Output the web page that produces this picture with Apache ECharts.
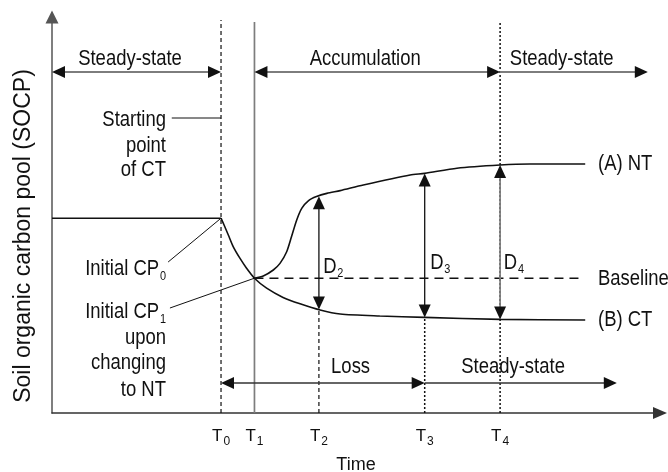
<!DOCTYPE html>
<html><head><meta charset="utf-8">
<script src="https://cdn.jsdelivr.net/npm/echarts@6/dist/echarts.min.js"></script>
<style>html,body{margin:0;padding:0;background:#fff}#c{width:668px;height:472px}</style>
</head><body><div id="c"></div>
<script>
// ---- data (time units 0..100, SOCP units 0..100) ----
const ntCurve = [[33.3,33.7],[34.75,34.25],[36.4,35.75],[37.5,37.4],[38.6,40.3],[39.4,44.1],[40.25,48.25],[41.1,51.2],[42.2,53.1],[43.5,54.1],[45.2,54.9],[47.4,55.6],[51.2,57.0],[58.9,59.5],[61.3,59.9],[66.6,61.2],[73.7,62.0],[78.6,62.25],[87.7,62.25]];
const ctCurve = [[27.8,48.7],[28.3,47.0],[29.0,44.5],[29.8,41.6],[30.9,38.7],[32.0,36.2],[33.3,33.7],[35.3,31.2],[38.0,28.9],[40.8,27.3],[44.1,25.75],[47.4,24.75],[53.9,24.25],[61.3,23.9],[73.7,23.4],[87.7,23.25]];
const initialLevel = [[0,48.7],[27.8,48.7]];
const baselineLevel = [[33.3,33.7],[86.8,33.7]];

const timeMarks = [27.8, 33.3, 43.9, 61.3, 73.7];
const timeSubs = ['0','1','2','3','4'];

const topPhaseNames = ['Steady-state','Accumulation','Steady-state'];
const topPhaseFrom = [0, 33.3, 73.7];
const topPhaseTo = [27.8, 73.7, 98.0];
const topPhaseTwoWay = [1, 1, 0];
const topPhaseLabelX = [4.3, 42.4, 75.3];
const topPhaseLevel = 85.25;
const topPhaseLabelLevel = 88.5;

const lowPhaseNames = ['Loss','Steady-state'];
const lowPhaseFrom = [27.8, 61.3];
const lowPhaseTo = [61.3, 92.9];
const lowPhaseTwoWay = [1, 0];
const lowPhaseLabelX = [45.9, 67.3];
const lowPhaseLevel = 7.5;
const lowPhaseLabelLevel = 11.5;

const dX = [43.9, 61.3, 73.7];
const dTop = [54.2, 59.9, 62.0];
const dBottom = [25.9, 23.9, 23.4];
const dNames = ['D{s|2}','D{s|3}','D{s|4}'];
const dLabelX = [44.6, 62.2, 74.3];
const dLabelY = [36.6, 37.6, 37.6];

const solidGuides = [[33.3,0,33.3,97.75]];
const dashedGuides = [[27.8,0,27.8,98.25],[43.9,0,43.9,25.9]];
const dottedGuides = [[61.3,0,61.3,23.9],[73.7,0,73.7,97.5]];
const leaderLines = [[19.7,73.75,27.8,73.75],[19.1,37.75,27.8,48.7],[19.4,26.25,33.3,33.7]];

const leftNotes = ['Starting','point','of CT','Initial CP{s|0}','Initial CP{s|1}','upon','changing','to NT'];
const leftNotesY = [73.25, 66.75, 60.75, 36.0, 25.25, 18.75, 12.5, 5.75];
const leftNotesX = 18.75;

const rightNotes = ['(A) NT','Baseline','(B) CT'];
const rightNotesY = [62.25, 33.5, 23.25];
const rightNotesX = 89.8;

// ---- styles ----
const FN = "'Liberation Sans',Arimo,Arial,sans-serif";
const INK = '#111111';
const GREY = '#7d7d7d';
const FS = 22;
const NARROW = 0.84;
const subRich = { s: { fontFamily: FN, fontSize: 13, fill: INK, color: INK, padding: [14, 0, 0, 1] } };

function segSeries(data, color, width, dash) {
  return {
    type: 'custom', data: data, silent: true, z: 3,
    renderItem: function (params, api) {
      const a = api.coord([api.value(0), api.value(1)]);
      const b = api.coord([api.value(2), api.value(3)]);
      return { type: 'line', shape: { x1: a[0], y1: a[1], x2: b[0], y2: b[1] },
        style: { stroke: color, lineWidth: width, lineDash: dash || null } };
    }
  };
}
function head(tip, ux, uy) {
  const L = 13, W = 6;
  const bx = tip[0] - ux * L, by = tip[1] - uy * L;
  return { type: 'polygon', shape: { points: [[tip[0], tip[1]], [bx - uy * W, by + ux * W], [bx + uy * W, by - ux * W]] },
    style: { fill: INK } };
}
function arrowSeries(data, color, width) {
  return {
    type: 'custom', data: data, silent: true, z: 5,
    renderItem: function (params, api) {
      const a = api.coord([api.value(0), api.value(1)]);
      const b = api.coord([api.value(2), api.value(3)]);
      const both = api.value(4);
      const dx = b[0] - a[0], dy = b[1] - a[1], len = Math.hypot(dx, dy);
      const ux = dx / len, uy = dy / len;
      const s = both ? [a[0] + ux * 10, a[1] + uy * 10] : a;
      const e = [b[0] - ux * 10, b[1] - uy * 10];
      const ch = [{ type: 'line', shape: { x1: s[0], y1: s[1], x2: e[0], y2: e[1] }, style: { stroke: color, lineWidth: width } }];
      ch.push(head(b, ux, uy));
      if (both) ch.push(head(a, -ux, -uy));
      return { type: 'group', children: ch };
    }
  };
}
function textSeries(xs, ys, texts, align, size) {
  return {
    type: 'custom', silent: true, z: 6,
    data: texts.map(function (t, i) { return [xs[i], ys[i]]; }),
    renderItem: function (params, api) {
      const p = api.coord([api.value(0), api.value(1)]);
      return { type: 'text', x: p[0], y: p[1], scaleX: NARROW,
        style: { text: texts[params.dataIndex], align: align, verticalAlign: 'middle',
          fontFamily: FN, fontSize: size || FS, fill: INK, rich: subRich } };
    }
  };
}

const chart = echarts.init(document.getElementById('c'), null, { renderer: 'canvas' });
chart.setOption({
  animation: false,
  backgroundColor: '#ffffff',
  grid: { left: 52, right: 8, top: 13, bottom: 59, containLabel: false, outerBoundsMode: 'none' },
  xAxis: {
    type: 'value', min: 0, max: 100,
    name: 'Time', nameLocation: 'middle', nameGap: 43,
    nameTextStyle: { fontFamily: FN, fontSize: 18, color: INK },
    axisLine: { show: true, symbol: ['none', 'triangle'], symbolSize: [12, 14], lineStyle: { color: '#333', width: 1.5 } },
    axisTick: { show: false }, splitLine: { show: false },
    axisLabel: {
      customValues: timeMarks, margin: 11,
      formatter: function (v) {
        const i = timeMarks.indexOf(v);
        return '{t|T}{s|' + timeSubs[i] + '}';
      },
      rich: {
        t: { fontFamily: FN, fontSize: 17, color: INK },
        s: { fontFamily: FN, fontSize: 12, color: INK, padding: [12, 0, 0, 1] }
      }
    }
  },
  yAxis: {
    type: 'value', min: 0, max: 100,
    name: 'Soil organic carbon pool (SOCP)', nameLocation: 'middle', nameGap: 17, nameRotate: 90,
    nameTextStyle: { fontFamily: FN, fontSize: 23, color: INK, padding: [0, 46, 0, 0] },
    axisLine: { show: true, symbol: ['none', 'triangle'], symbolSize: [13, 13], symbolOffset: [0, -4], lineStyle: { color: '#555', width: 1.5 } },
    axisTick: { show: false }, axisLabel: { show: false }, splitLine: { show: false }
  },
  series: [
    { type: 'line', data: initialLevel, showSymbol: false, symbol: 'none', silent: true,
      lineStyle: { color: INK, width: 1.5 }, z: 4 },
    { type: 'line', data: ctCurve, smooth: 0.25, symbol: 'none', silent: true,
      lineStyle: { color: INK, width: 1.6 }, z: 4 },
    { type: 'line', data: ntCurve, smooth: 0.25, symbol: 'none', silent: true,
      lineStyle: { color: INK, width: 1.6 }, z: 4 },
    { type: 'line', data: baselineLevel, symbol: 'none', silent: true,
      lineStyle: { color: INK, width: 1.5, type: [9, 6] }, z: 4 },
    segSeries(solidGuides, GREY, 1.7),
    segSeries(dashedGuides, INK, 1.2, [4, 3]),
    segSeries(dottedGuides, INK, 1.5, [2, 2]),
    segSeries(leaderLines, INK, 1),
    arrowSeries(topPhaseFrom.map(function (f, i) { return [f, topPhaseLevel, topPhaseTo[i], topPhaseLevel, topPhaseTwoWay[i]]; }), GREY, 2),
    arrowSeries(lowPhaseFrom.map(function (f, i) { return [f, lowPhaseLevel, lowPhaseTo[i], lowPhaseLevel, lowPhaseTwoWay[i]]; }), '#333', 1.6),
    arrowSeries(dX.slice(0, 2).map(function (x, i) { return [x, dBottom[i], x, dTop[i], 1]; }), INK, 1.3),
    arrowSeries([[dX[2], dBottom[2], dX[2], dTop[2], 1]], GREY, 1.7),
    textSeries(topPhaseLabelX, topPhaseNames.map(function () { return topPhaseLabelLevel; }), topPhaseNames, 'left'),
    textSeries(lowPhaseLabelX, lowPhaseNames.map(function () { return lowPhaseLabelLevel; }), lowPhaseNames, 'left'),
    textSeries(dLabelX, dLabelY, dNames, 'left'),
    textSeries(leftNotesY.map(function () { return leftNotesX; }), leftNotesY, leftNotes, 'right'),
    textSeries(rightNotesY.map(function () { return rightNotesX; }), rightNotesY, rightNotes, 'left')
  ]
});
</script></body></html>
